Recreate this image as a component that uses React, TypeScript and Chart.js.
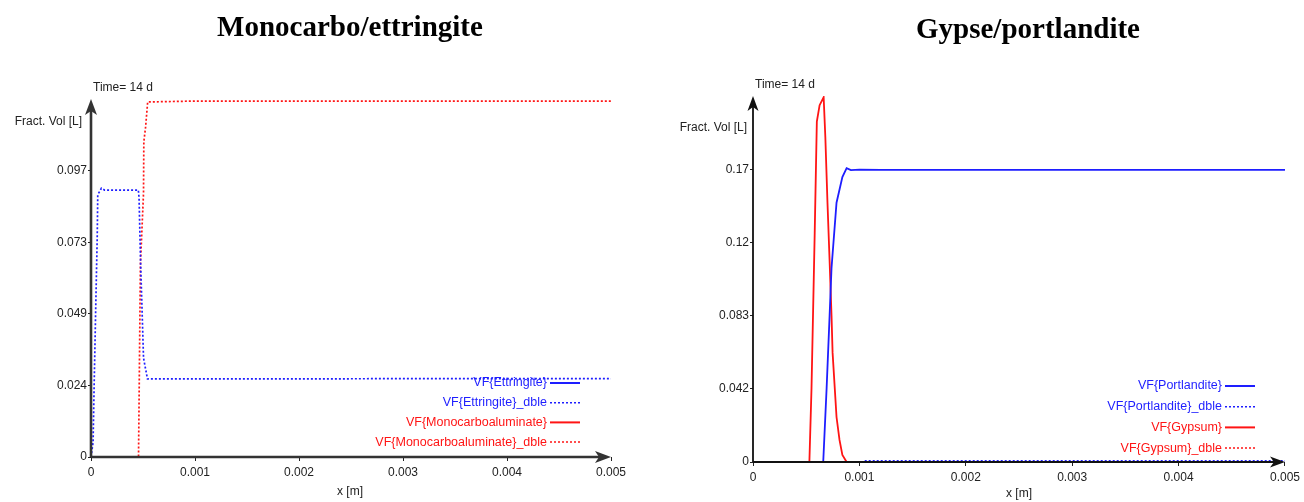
import React, { useEffect, useRef } from 'react';
import { Chart, registerables } from 'chart.js';

Chart.register(...registerables);

// ---------- shared x axis ----------
const X_TICKS = [0, 0.001, 0.002, 0.003, 0.004, 0.005];
const X_TICK_LABELS = ['0', '0.001', '0.002', '0.003', '0.004', '0.005'];

// ---------- left panel: Monocarbo/ettringite ----------
const LEFT_TITLE = 'Monocarbo/ettringite';
const LEFT_Y_MAX = 0.1215;
const LEFT_Y_TICKS = [0, 0.0243, 0.0486, 0.0729, 0.0972];
const LEFT_Y_LABELS = ['0', '0.024', '0.049', '0.073', '0.097'];
const LEFT_LABELS = [
  'VF{Ettringite}',
  'VF{Ettringite}_dble',
  'VF{Monocarboaluminate}',
  'VF{Monocarboaluminate}_dble',
];
const ETT_X: number[] = [];
const ETT_Y: number[] = [];
const ETT_DBLE_X = [0, 0.00002, 0.00003, 0.000045, 0.00006, 0.000065, 0.0001, 0.00013, 0.000455, 0.000462, 0.000476, 0.000505, 0.000543, 0.001, 0.002, 0.003, 0.004, 0.005];
const ETT_DBLE_Y = [0, 0.005, 0.024, 0.05, 0.075, 0.089, 0.0912, 0.0906, 0.0906, 0.088, 0.067, 0.0336, 0.0265, 0.0265, 0.0265, 0.0266, 0.0266, 0.0266];
const MONO_X: number[] = [];
const MONO_Y: number[] = [];
const MONO_DBLE_X = [0, 0.000457, 0.000475, 0.000505, 0.000508, 0.000525, 0.000545, 0.001, 0.002, 0.003, 0.004, 0.005];
const MONO_DBLE_Y = [0, 0, 0.065, 0.0896, 0.107, 0.112, 0.1205, 0.1208, 0.1208, 0.1208, 0.1208, 0.1208];

// ---------- right panel: Gypse/portlandite ----------
const RIGHT_TITLE = 'Gypse/portlandite';
const RIGHT_Y_MAX = 0.2075;
const RIGHT_Y_TICKS = [0, 0.0415, 0.083, 0.1245, 0.166];
const RIGHT_Y_LABELS = ['0', '0.042', '0.083', '0.12', '0.17'];
const RIGHT_LABELS = [
  'VF{Portlandite}',
  'VF{Portlandite}_dble',
  'VF{Gypsum}',
  'VF{Gypsum}_dble',
];
const PORT_X = [0, 0.00066, 0.000692, 0.00072, 0.000738, 0.000785, 0.00084, 0.00088, 0.00092, 0.001, 0.0012, 0.002, 0.003, 0.004, 0.005];
const PORT_Y = [0, 0, 0.042, 0.083, 0.11, 0.147, 0.1615, 0.1666, 0.1655, 0.1658, 0.1656, 0.1656, 0.1656, 0.1656, 0.1656];
const PORT_DBLE_X = [0.00105, 0.002, 0.003, 0.004, 0.005];
const PORT_DBLE_Y = [0.0006, 0.0006, 0.0006, 0.0006, 0.0006];
const GYP_X = [0, 0.00053, 0.00055, 0.00058, 0.0006, 0.000626, 0.000664, 0.00068, 0.0007, 0.00072, 0.000738, 0.000748, 0.000785, 0.000813, 0.00084, 0.00088];
const GYP_Y = [0, 0, 0.042, 0.13, 0.193, 0.2023, 0.2068, 0.184, 0.147, 0.114, 0.083, 0.062, 0.0255, 0.0125, 0.004, 0];
const GYP_DBLE_X: number[] = [];
const GYP_DBLE_Y: number[] = [];

const BLUE = 'rgb(30,30,255)';
const RED = 'rgb(255,20,20)';

const pts = (xs: number[], ys: number[]) => xs.map((x, i) => ({ x, y: ys[i] }));

const overlayPlugin = {
  id: 'overlay',
  afterDatasetsDraw(chart: any, _args: any, o: any) {
    const { ctx, chartArea } = chart;
    const { left, right, top, bottom } = chartArea;
    ctx.save();
    // axes
    ctx.strokeStyle = o.axisColor;
    ctx.fillStyle = o.axisColor;
    ctx.lineWidth = o.axisWidth;
    ctx.beginPath();
    ctx.moveTo(left, bottom);
    ctx.lineTo(left, top + 6);
    ctx.moveTo(left, bottom);
    ctx.lineTo(right - 6, bottom);
    ctx.stroke();
    const ah = o.arrowLen, aw = o.arrowHalf;
    // y arrow
    ctx.beginPath();
    ctx.moveTo(left, top);
    ctx.lineTo(left - aw, top + ah);
    ctx.lineTo(left, top + ah - 4);
    ctx.lineTo(left + aw, top + ah);
    ctx.closePath();
    ctx.fill();
    // x arrow
    ctx.beginPath();
    ctx.moveTo(right, bottom);
    ctx.lineTo(right - ah, bottom - aw);
    ctx.lineTo(right - ah + 4, bottom);
    ctx.lineTo(right - ah, bottom + aw);
    ctx.closePath();
    ctx.fill();

    // texts
    ctx.fillStyle = '#000';
    ctx.textBaseline = 'middle';
    ctx.font = 'bold 29px "Liberation Serif"';
    ctx.textAlign = 'center';
    ctx.fillText(o.title, o.titleX, o.titleY);
    ctx.fillStyle = '#222';
    ctx.font = '12px "Liberation Sans"';
    ctx.textAlign = 'left';
    ctx.fillText('Time= 14 d', o.timeX, o.timeY);
    ctx.textAlign = 'right';
    ctx.fillText('Fract. Vol [L]', o.yLabelRight, o.yLabelY);
    ctx.textAlign = 'center';
    ctx.fillText('x [m]', o.xLabelX, o.xLabelY);

    // legend (text then sample line)
    ctx.font = '12.5px "Liberation Sans"';
    ctx.textAlign = 'right';
    chart.data.datasets.forEach((ds: any, i: number) => {
      const y = o.legendTop + i * o.legendGap;
      ctx.fillStyle = ds.borderColor;
      ctx.fillText(ds.label, o.legendTextRight, y);
      ctx.strokeStyle = ds.borderColor;
      ctx.lineWidth = ds.borderDash && ds.borderDash.length ? 1.5 : 2;
      ctx.setLineDash(ds.borderDash || []);
      ctx.beginPath();
      ctx.moveTo(o.legendTextRight + 3, y);
      ctx.lineTo(o.legendTextRight + 33, y);
      ctx.stroke();
      ctx.setLineDash([]);
    });
    ctx.restore();
  },
};

type Panel = {
  labels: string[];
  series: { x: number[]; y: number[] }[];
  colors: string[];
  yMax: number;
  yTicks: number[];
  yLabels: string[];
  area: { left: number; right: number; top: number; bottom: number };
  overlay: any;
};

function makeConfig(p: Panel, W: number, H: number): any {
  const datasets = p.series.map((s, i) => ({
    label: p.labels[i],
    data: pts(s.x, s.y),
    borderColor: p.colors[i],
    backgroundColor: p.colors[i],
    borderWidth: i % 2 === 1 ? 1.7 : 1.8,
    borderDash: i % 2 === 1 ? [2, 2] : [],
    pointRadius: 0,
    tension: 0,
    fill: false,
  }));
  return {
    type: 'line',
    data: { datasets },
    plugins: [overlayPlugin],
    options: {
      responsive: false,
      animation: false,
      events: [],
      layout: { padding: { left: 0, right: W - p.area.right, top: p.area.top, bottom: 0 } },
      plugins: {
        legend: { display: false },
        title: { display: false },
        tooltip: { enabled: false },
        overlay: p.overlay,
      },
      scales: {
        x: {
          type: 'linear',
          min: 0,
          max: 0.005,
          afterBuildTicks: (s: any) => { s.ticks = X_TICKS.map((v) => ({ value: v })); },
          afterFit: (s: any) => { s.height = H - p.area.bottom; },
          border: { display: false },
          grid: { drawOnChartArea: false, tickLength: 4, color: '#222' },
          ticks: {
            autoSkip: false,
            maxRotation: 0,
            padding: 4,
            color: '#222',
            font: { family: 'Liberation Sans', size: 12 },
            callback: (v: number) => X_TICK_LABELS[X_TICKS.findIndex((t) => Math.abs(t - v) < 1e-9)] ?? '',
          },
        },
        y: {
          type: 'linear',
          min: 0,
          max: p.yMax,
          afterBuildTicks: (s: any) => { s.ticks = p.yTicks.map((v) => ({ value: v })); },
          afterFit: (s: any) => { s.width = p.area.left; },
          border: { display: false },
          grid: { drawOnChartArea: false, tickLength: 3, color: '#222' },
          ticks: {
            autoSkip: false,
            padding: 1,
            color: '#222',
            font: { family: 'Liberation Sans', size: 12 },
            callback: (v: number) => p.yLabels[p.yTicks.findIndex((t) => Math.abs(t - v) < 1e-9)] ?? '',
          },
        },
      },
    },
  };
}

const W = 652;
const H = 502;

const LEFT_PANEL: Panel = {
  labels: LEFT_LABELS,
  series: [
    { x: ETT_X, y: ETT_Y },
    { x: ETT_DBLE_X, y: ETT_DBLE_Y },
    { x: MONO_X, y: MONO_Y },
    { x: MONO_DBLE_X, y: MONO_DBLE_Y },
  ],
  colors: [BLUE, BLUE, RED, RED],
  yMax: LEFT_Y_MAX,
  yTicks: LEFT_Y_TICKS,
  yLabels: LEFT_Y_LABELS,
  area: { left: 91, right: 611, top: 99, bottom: 457 },
  overlay: {
    title: LEFT_TITLE, titleX: 350, titleY: 29,
    timeX: 93, timeY: 88,
    yLabelRight: 82, yLabelY: 122,
    xLabelX: 350, xLabelY: 492,
    legendTextRight: 547, legendTop: 383, legendGap: 19.7,
    axisColor: '#333', axisWidth: 2.6, arrowLen: 16, arrowHalf: 6,
  },
};

const RIGHT_PANEL: Panel = {
  labels: RIGHT_LABELS,
  series: [
    { x: PORT_X, y: PORT_Y },
    { x: PORT_DBLE_X, y: PORT_DBLE_Y },
    { x: GYP_X, y: GYP_Y },
    { x: GYP_DBLE_X, y: GYP_DBLE_Y },
  ],
  colors: [BLUE, BLUE, RED, RED],
  yMax: RIGHT_Y_MAX,
  yTicks: RIGHT_Y_TICKS,
  yLabels: RIGHT_Y_LABELS,
  area: { left: 101, right: 636, top: 96, bottom: 462 },
  overlay: {
    title: RIGHT_TITLE, titleX: 376, titleY: 31,
    timeX: 103, timeY: 85,
    yLabelRight: 95, yLabelY: 128,
    xLabelX: 367, xLabelY: 494,
    legendTextRight: 570, legendTop: 386, legendGap: 20.7,
    axisColor: '#111', axisWidth: 1.8, arrowLen: 15, arrowHalf: 5.5,
  },
};

function PanelChart({ panel, x }: { panel: Panel; x: number }) {
  const ref = useRef<HTMLCanvasElement | null>(null);
  useEffect(() => {
    if (!ref.current) return;
    const chart = new Chart(ref.current, makeConfig(panel, W, H));
    return () => chart.destroy();
  }, [panel]);
  return (
    <canvas
      ref={ref}
      width={W}
      height={H}
      style={{ position: 'absolute', left: x, top: 0, width: W, height: H }}
    />
  );
}

export default function App() {
  return (
    <div style={{ position: 'fixed', left: 0, top: 0, width: 1304, height: 502, background: '#fff' }}>
      <PanelChart panel={LEFT_PANEL} x={0} />
      <PanelChart panel={RIGHT_PANEL} x={652} />
    </div>
  );
}
